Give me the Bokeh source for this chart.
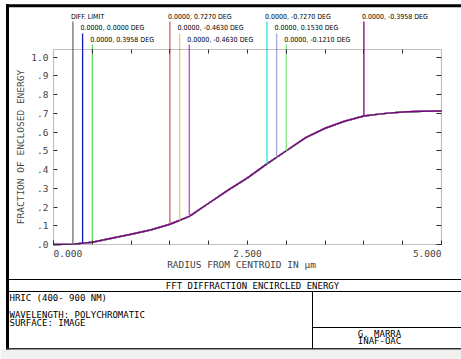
import math
import numpy as np
from bokeh.plotting import figure
from bokeh.models import Label, BoxAnnotation, FixedTicker, LinearAxis
from bokeh.embed import file_html
from bokeh.resources import INLINE

# ---------------- data ----------------
radius_um = [0.0, 0.25, 0.5, 0.75, 1.0, 1.25, 1.5, 1.75, 2.0, 2.25, 2.5,
             2.75, 3.0, 3.25, 3.5, 3.75, 4.0, 4.25, 4.5, 4.75, 5.0]
enclosed_energy = [0.0, 0.002, 0.012, 0.033, 0.055, 0.077, 0.108, 0.150, 0.220,
                   0.290, 0.355, 0.430, 0.500, 0.570, 0.620, 0.657, 0.685,
                   0.698, 0.707, 0.711, 0.712]

series_labels = ["DIFF. LIMIT", "0.0000, 0.0000 DEG", "0.0000, 0.3958 DEG",
                 "0.0000, 0.7270 DEG", "0.0000, -0.4630 DEG", "0.0000, -0.4630 DEG",
                 "0.0000, -0.7270 DEG", "0.0000, 0.1530 DEG", "0.0000, -0.1210 DEG",
                 "0.0000, -0.3958 DEG"]
series_colors = ["#707070", "#1818b8", "#60d860", "#d06060", "#d8d848",
                 "#d040d0", "#40d8d8", "#a8a8e0", "#88e088", "#800080"]
label_radius = [0.25, 0.375, 0.5, 1.5, 1.625, 1.75, 2.75, 2.875, 3.0, 4.0]
label_row = [0, 1, 2, 0, 1, 2, 0, 1, 2, 0]

y_ticks = [i / 10 for i in range(11)]
y_tick_labels = [".0", ".1", ".2", ".3", ".4", ".5", ".6", ".7", ".8", ".9", "1.0"]
x_ticks = [i / 2 for i in range(11)]
x_label_values = [0.0, 2.5, 5.0]
x_label_texts = ["0.000", "2.500", "5.000"]
top_ticks = [i / 2 for i in range(1, 10)]

title_text = "FFT DIFFRACTION ENCIRCLED ENERGY"
info_lines = ["HRIC  (400- 900 NM)", "WAVELENGTH: POLYCHROMATIC", "SURFACE: IMAGE"]
author_lines = ["G. MARRA", "INAF-OAC"]

# ---------------- layout ----------------
W, H = 461, 359
FL, FR, FT, FB = 53, 441, 49, 244     # plot-box edges in canvas pixels
PPX = (FR - FL) / 5.0                 # pixels per micron
PPY = 187.5                           # pixels per unit of energy
Y_MAX = (FB - FT) / PPY

x_lo, x_hi = -FL / PPX, (W - FL) / PPX
y_lo, y_hi = (FB - H) / PPY, FB / PPY

MONO = "DejaVu Sans Mono"
NARROW = "Liberation Sans Narrow, DejaVu Sans Condensed, Liberation Sans, sans-serif"
DARK = "#303030"

p = figure(width=W, height=H, x_range=(x_lo, x_hi), y_range=(y_lo, y_hi),
           output_backend="svg", toolbar_location=None,
           min_border=0, min_border_left=0, min_border_right=0,
           min_border_top=0, min_border_bottom=0,
           background_fill_color="white", border_fill_color="white")
p.grid.visible = False
p.outline_line_color = None

# ---------------- decoration (page frame & title block, canvas pixels) ----------------
def cx(x):
    return (x - FL) / PPX

def cy(y):
    return (FB - y) / PPY

deco = [  # x0, y0, x1, y1 (canvas pixels, y downward), colour
    (0, 349, W, H, "#f0f0f0"),
    (5.5, 3.8, W, 6.8, "black"),       # outer top
    (5.5, 3.8, 8.5, 349, "black"),     # outer left
    (5.5, 347.5, W, 349, DARK),        # outer bottom
    (5.5, 278.5, W, 279.5, "black"),
    (5.5, 290.5, W, 291.5, "black"),
    (311.5, 291, 312.5, 348, "black"),
    (312, 326.5, W, 327.5, "black"),
]
p.quad(left=[cx(d[0]) for d in deco], right=[cx(d[2]) for d in deco],
       top=[cy(d[1]) for d in deco], bottom=[cy(d[3]) for d in deco],
       fill_color=[d[4] for d in deco], line_color=None)

def text(x, y, s, align="left", size="9px"):
    p.add_layout(Label(x=x, y=H - y, x_units="screen", y_units="screen", text=s,
                       text_font=MONO, text_font_size=size, text_align=align,
                       text_baseline="middle", text_color="black"))

text(252, 285, title_text, "center")
text(9, 297, info_lines[0])
text(9, 314.5, info_lines[1])
text(9, 322.5, info_lines[2])
text(379, 333, author_lines[0], "center")
text(379, 340, author_lines[1], "center")

# ---------------- axes ----------------
def style_axis(ax, tick_in):
    ax.axis_line_color = None
    ax.major_tick_in = tick_in
    ax.major_tick_out = 0
    ax.minor_tick_in = tick_in
    ax.minor_tick_out = 0
    ax.major_tick_line_color = DARK
    ax.minor_tick_line_color = DARK

yax = p.yaxis[0]
yax.fixed_location = 0
yax.ticker = FixedTicker(ticks=y_ticks)
yax.major_label_overrides = {t: s for t, s in zip(y_ticks, y_tick_labels)}
yax.major_label_text_font = MONO
yax.major_label_text_font_size = "9.5px"
yax.major_label_standoff = 5
style_axis(yax, 4)

xax = p.xaxis[0]
xax.fixed_location = 0
xax.ticker = FixedTicker(ticks=[], minor_ticks=x_ticks)
style_axis(xax, 4)

right_ax = LinearAxis(ticker=FixedTicker(ticks=[], minor_ticks=y_ticks), fixed_location=5.0)
style_axis(right_ax, 5)
p.add_layout(right_ax, "right")
top_ax = LinearAxis(ticker=FixedTicker(ticks=[], minor_ticks=top_ticks), fixed_location=Y_MAX)
style_axis(top_ax, 4)
p.add_layout(top_ax, "above")

# plot box
p.add_layout(BoxAnnotation(left=0, right=5, bottom=0, top=Y_MAX, fill_color=None,
                           line_color=DARK, line_width=1.2))

# ---------------- curves ----------------
for c in series_colors:
    p.line(radius_um, enclosed_energy, line_color=c, line_width=1.5)

# legend pointers and labels
row_text_px = [33, 21.5, 10]    # text centre above plot top
row_line_px = [28, 16, 5]       # pointer start above plot top
y_ends = [float(np.interp(r, radius_um, enclosed_energy)) for r in label_radius]
y_starts = [Y_MAX + row_line_px[row] / PPY for row in label_row]
p.segment(x0=label_radius, y0=y_starts, x1=label_radius, y1=y_ends,
          line_color=series_colors, line_width=1.3)
for lab, r, row in zip(series_labels, label_radius, label_row):
    p.add_layout(Label(x=r, y=Y_MAX, x_offset=-2, y_offset=row_text_px[row], text=lab,
                       text_font=NARROW, text_font_size="7px",
                       text_align="left", text_baseline="middle", text_color="black"))

# x tick labels and axis titles
aligns = ["left", "center", "right"]
for v, t, a in zip(x_label_values, x_label_texts, aligns):
    p.add_layout(Label(x=v, y=0, y_offset=-9, text=t, text_font=MONO,
                       text_font_size="9.5px", text_align=a, text_baseline="middle"))
p.add_layout(Label(x=2.5, y=0, x_offset=-6, y_offset=-20,
                   text="RADIUS FROM CENTROID IN \u00b5m", text_font=MONO,
                   text_font_size="9.5px", text_align="center", text_baseline="middle"))
p.add_layout(Label(x=0, y=Y_MAX / 2, x_offset=-33, angle=math.pi / 2,
                   text="FRACTION OF ENCLOSED ENERGY", text_font=MONO,
                   text_font_size="9.5px", text_align="center", text_baseline="middle"))

open("out.html", "w").write(file_html(p, INLINE))
